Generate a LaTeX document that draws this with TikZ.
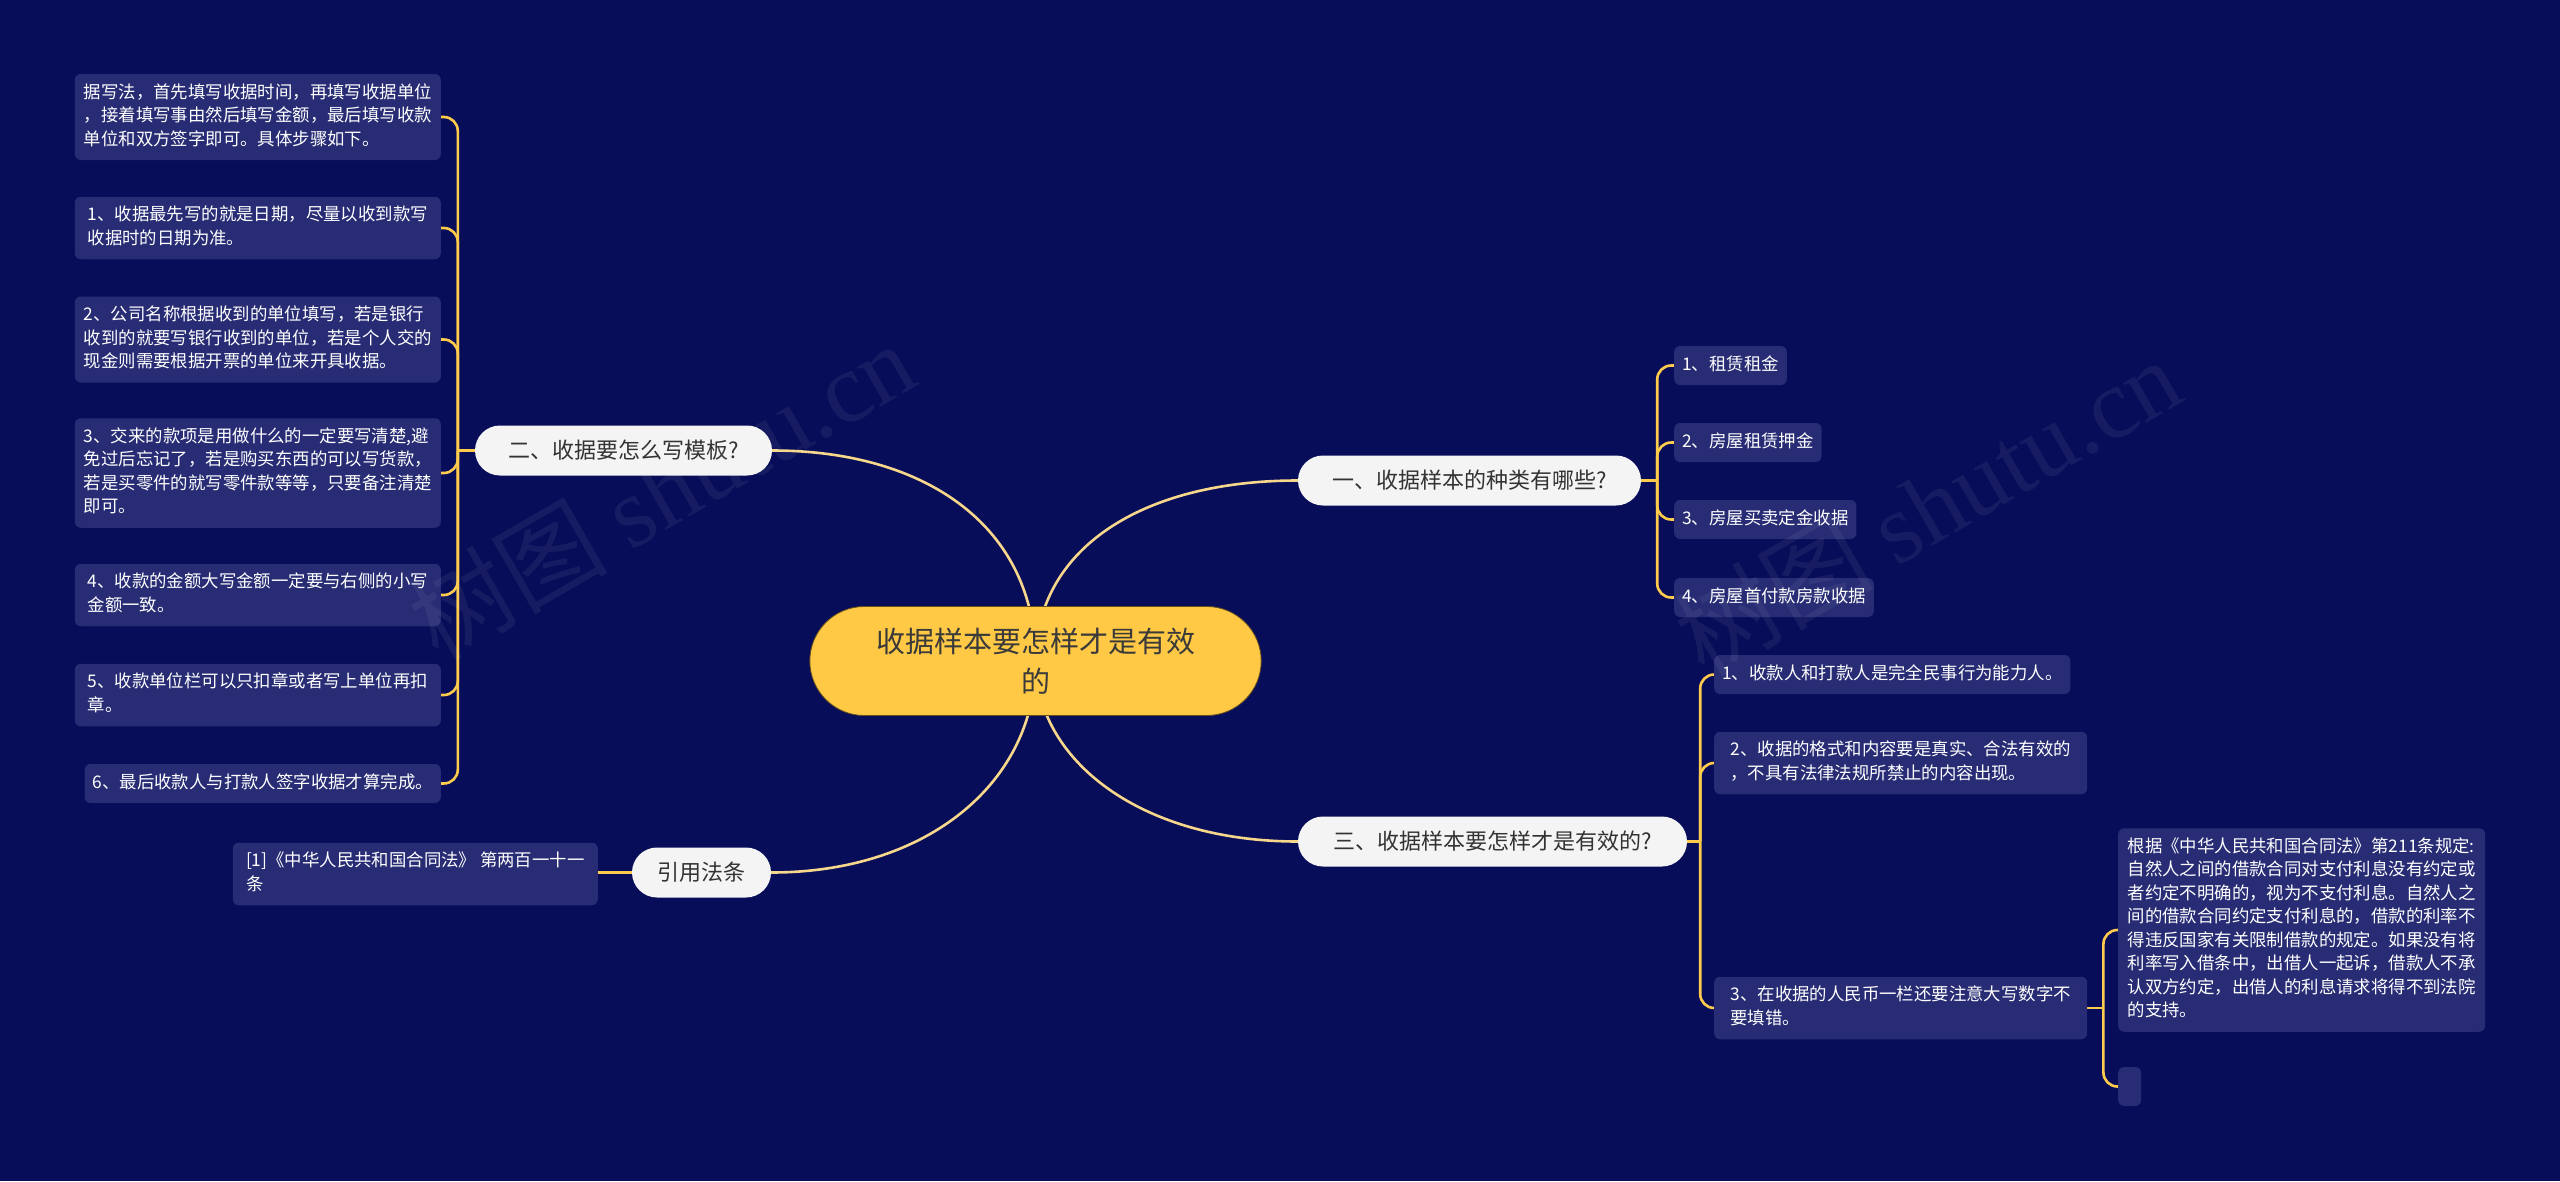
\documentclass[tikz,border=0pt]{standalone}
\usepackage{fontspec}
\setmainfont{Noto Sans CJK SC}
\newfontfamily\cjkf{Noto Sans CJK SC}
\newfontfamily\wmserif{Liberation Serif}
\usetikzlibrary{shapes.misc}
\pgfdeclarelayer{bg}
\pgfdeclarelayer{links}
\pgfsetlayers{bg,links,main}
\definecolor{bgnavy}{HTML}{080D59}
\definecolor{leaffill}{HTML}{272C74}
\definecolor{linkyel}{HTML}{FFCB4D}
\definecolor{mainyel}{HTML}{F6D78B}
\definecolor{centfill}{HTML}{FFC845}
\definecolor{centtext}{HTML}{3A3A3A}
\definecolor{brfill}{HTML}{F4F4F4}
\definecolor{brtext}{HTML}{333333}
\newcommand\leaffont{\fontsize{17.4}{23.5}\selectfont}
\newcommand\brfont{\fontsize{22}{26}\selectfont}
\newcommand\centfont{\fontsize{29}{40}\selectfont}
\newcommand\lt[1]{\strut#1\strut}
\tikzset{
  leafbox/.style={draw=none, fill=leaffill, rounded corners=6pt, text=white,
    font=\leaffont, align=left, inner xsep=8pt, inner ysep=7.75pt},
  brbox/.style={rounded rectangle, fill=brfill, text=brtext, font=\brfont,
    minimum height=50pt, inner sep=0pt},
  centbox/.style={rounded rectangle, fill=centfill, draw=black!60!centfill, line width=0.8pt,
    text=centtext, font=\centfont, align=center, minimum width=458pt, minimum height=109pt},
  mainlink/.style={draw=mainyel, line width=2.6pt},
  leaflink/.style={draw=linkyel, line width=2.6pt, rounded corners=14pt},
  wm/.style={text=white, opacity=0.06, font=\fontsize{100}{110}\selectfont, inner sep=0pt}
}
\begin{document}
\begin{tikzpicture}[x=1pt,y=-1pt]
\begin{pgfonlayer}{bg}
\fill[bgnavy] (0,0) rectangle (2560,1181);
\end{pgfonlayer}
\useasboundingbox (0,0) rectangle (2560,1181);

% central and branch nodes
\node[centbox] (C) at (1035.5,661) {收据样本要怎样才是有效\\的};
\node[brbox, minimum width=297pt] (B2) at (623.5,450.5) {二、收据要怎么写模板?};
\node[brbox, minimum width=343pt] (B1) at (1469.5,480.5) {一、收据样本的种类有哪些?};
\node[brbox, minimum width=389pt] (B3) at (1492.5,841.5) {三、收据样本要怎样才是有效的?};
\node[brbox, minimum width=139pt] (BR) at (701.5,872.5) {引用法条};

% left leaves
\node[leafbox, anchor=east, minimum width=366pt] (L0) at (441,117) {\lt{据写法，首先填写收据时间，再填写收据单位\\，接着填写事由然后填写金额，最后填写收款\\单位和双方签字即可。具体步骤如下。}};
\node[leafbox, anchor=east, minimum width=366pt] (L1) at (441,228) {\lt{1、收据最先写的就是日期，尽量以收到款写\\收据时的日期为准。}};
\node[leafbox, anchor=east, minimum width=366pt] (L2) at (441,339.5) {\lt{2、公司名称根据收到的单位填写，若是银行\\收到的就要写银行收到的单位，若是个人交的\\现金则需要根据开票的单位来开具收据。}};
\node[leafbox, anchor=east, minimum width=366pt] (L3) at (441,473) {\lt{3、交来的款项是用做什么的一定要写清楚,避\\免过后忘记了，若是购买东西的可以写货款，\\若是买零件的就写零件款等等，只要备注清楚\\即可。}};
\node[leafbox, anchor=east, minimum width=366pt] (L4) at (441,595) {\lt{4、收款的金额大写金额一定要与右侧的小写\\金额一致。}};
\node[leafbox, anchor=east, minimum width=366pt] (L5) at (441,695) {\lt{5、收款单位栏可以只扣章或者写上单位再扣\\章。}};
\node[leafbox, anchor=east] (L6) at (441,783.5) {\lt{6、最后收款人与打款人签字收据才算完成。}};
\node[leafbox, anchor=east, minimum width=365pt] (RF) at (598,874) {\lt{[1]《中华人民共和国合同法》 第两百一十一\\条}};

% right leaves of branch one
\node[leafbox, anchor=west] (K1) at (1674,365.5) {\lt{1、租赁租金}};
\node[leafbox, anchor=west] (K2) at (1674,442.5) {\lt{2、房屋租赁押金}};
\node[leafbox, anchor=west] (K3) at (1674,519.5) {\lt{3、房屋买卖定金收据}};
\node[leafbox, anchor=west] (K4) at (1674,597.5) {\lt{4、房屋首付款房款收据}};

% right leaves of branch three
\node[leafbox, anchor=west] (R1) at (1714,674.5) {\lt{1、收款人和打款人是完全民事行为能力人。}};
\node[leafbox, anchor=west, minimum width=373pt] (R2) at (1714,763) {\lt{2、收据的格式和内容要是真实、合法有效的\\，不具有法律法规所禁止的内容出现。}};
\node[leafbox, anchor=west, minimum width=373pt] (R3) at (1714,1008) {\lt{3、在收据的人民币一栏还要注意大写数字不\\要填错。}};
\node[leafbox, anchor=west, minimum width=367pt] (R3a) at (2118,930) {\lt{根据《中华人民共和国合同法》第211条规定:\\自然人之间的借款合同对支付利息没有约定或\\者约定不明确的，视为不支付利息。自然人之\\间的借款合同约定支付利息的，借款的利率不\\得违反国家有关限制借款的规定。如果没有将\\利率写入借条中，出借人一起诉，借款人不承\\认双方约定，出借人的利息请求将得不到法院\\的支持。}};
\node[leafbox, anchor=west, minimum width=23pt, minimum height=39pt, inner sep=0pt] (R3b) at (2118,1086.5) {};

% connectors
\begin{pgfonlayer}{links}
\draw[mainlink] (C.center) .. controls (1036,530) and (930,450.5) .. (B2.east);
\draw[mainlink] (C.center) .. controls (1036,550) and (1140,480.5) .. (B1.west);
\draw[mainlink] (C.center) .. controls (1036,780) and (930,872.5) .. (BR.east);
\draw[mainlink] (C.center) .. controls (1036,760) and (1140,841.5) .. (B3.west);

\coordinate (J2) at ([xshift=-17pt]B2.west);
\draw[leaflink] (B2.west) -- (J2);
\foreach \n in {L0,L1,L2,L3,L4,L5,L6} \draw[leaflink] (J2) |- (\n.east);

\coordinate (J1) at ([xshift=16pt]B1.east);
\draw[leaflink] (B1.east) -- (J1);
\foreach \n in {K1,K2,K3,K4} \draw[leaflink] (J1) |- (\n.west);

\coordinate (J3) at ([xshift=13pt]B3.east);
\draw[leaflink] (B3.east) -- (J3);
\foreach \n in {R1,R2,R3} \draw[leaflink] (J3) |- (\n.west);

\coordinate (J4) at ([xshift=16pt]R3.east);
\draw[leaflink] (R3.east) -- (J4);
\foreach \n in {R3a,R3b} \draw[leaflink] (J4) |- (\n.west);

\draw[leaflink] (BR.west) -- (BR.west -| RF.east);
\end{pgfonlayer}

% watermarks
\node[wm, rotate=30] (W1) at (661,490) {{\cjkf 树图} {\wmserif shutu.cn}};
\node[wm, rotate=30] (W2) at (1927,506) {{\cjkf 树图} {\wmserif shutu.cn}};
\end{tikzpicture}
\end{document}
